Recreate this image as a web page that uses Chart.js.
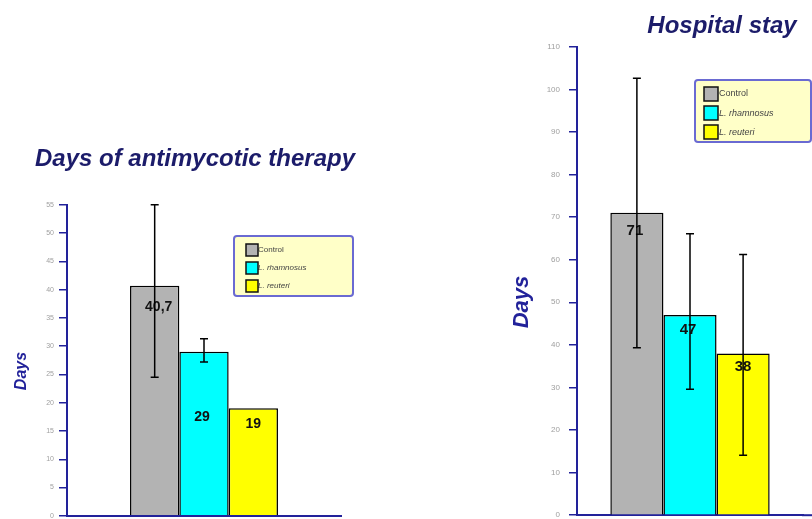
<!DOCTYPE html>
<html lang="en">
<head>
<meta charset="UTF-8">
<title>Days of antimycotic therapy / Hospital stay</title>
<style>
  html, body { margin: 0; padding: 0; background: #fff; width: 812px; height: 519px; overflow: hidden; position: relative; }
  canvas { position: absolute; top: 0; }
  #therapy-chart { left: 0; }
  #stay-chart { left: 505px; }
</style>
</head>
<body>
<canvas id="therapy-chart" width="390" height="525"></canvas>
<canvas id="stay-chart" width="434" height="529"></canvas>
<script src="https://cdn.jsdelivr.net/npm/chart.js"></script>
<script>
// data
const groups = ['Control', 'L. rhamnosus', 'L. reuteri'];
const groupColors = ['#b3b3b3', '#00ffff', '#ffff00'];

const therapyDays = [40.7, 29, 19];
const therapyLow = [24.5, 27.2, null];
const therapyHigh = [55, 31.3, null];
const therapyText = ['40,7', '29', '19'];
const therapyTicks = [0, 5, 10, 15, 20, 25, 30, 35, 40, 45, 50, 55];

const stayDays = [71, 47, 38];
const stayLow = [39.3, 29.6, 14.1];
const stayHigh = [102.6, 66.1, 61.2];
const stayText = ['71', '47', '38'];
const stayTicks = [0, 10, 20, 30, 40, 50, 60, 70, 80, 90, 100, 110];

const navy = '#22229a';
const titleColor = '#1c1c6a';
const fontFamily = '"Liberation Sans", Arial, sans-serif';

// labels inside bars, error bars, legend box, y label, axis extension
const decorations = {
  id: 'decorations',
  afterDatasetsDraw(chart, args, o) {
    const ctx = chart.ctx;
    const y = chart.scales.y;
    ctx.save();
    // value labels
    ctx.fillStyle = '#111';
    ctx.font = 'bold ' + o.valueSize + 'px ' + fontFamily;
    ctx.textAlign = 'center';
    ctx.textBaseline = 'middle';
    chart.data.datasets.forEach((ds, i) => {
      const bar = chart.getDatasetMeta(i).data[0];
      const off = o.valueOffsets[i];
      ctx.fillText(ds.valueText, bar.x + off[0], bar.y + off[1]);
    });
    // error bars
    ctx.strokeStyle = '#000';
    ctx.lineWidth = 1.5;
    chart.data.datasets.forEach((ds, i) => {
      if (ds.low == null) return;
      const x = chart.getDatasetMeta(i).data[0].x;
      const yl = y.getPixelForValue(ds.low);
      const yh = y.getPixelForValue(ds.high);
      ctx.beginPath();
      ctx.moveTo(x, yl); ctx.lineTo(x, yh);
      ctx.moveTo(x - 4, yl); ctx.lineTo(x + 4, yl);
      ctx.moveTo(x - 4, yh); ctx.lineTo(x + 4, yh);
      ctx.stroke();
    });
    ctx.restore();
  },
  afterDraw(chart, args, o) {
    const ctx = chart.ctx;
    const area = chart.chartArea;
    ctx.save();
    // x axis runs on past the plot
    if (o.axisEnd) {
      ctx.strokeStyle = navy;
      ctx.lineWidth = 2;
      ctx.beginPath();
      ctx.moveTo(area.right - 1, area.bottom);
      ctx.lineTo(o.axisEnd, area.bottom);
      ctx.stroke();
    }
    // y axis label
    const yl = o.yLabel;
    ctx.translate(yl.x, yl.y);
    ctx.rotate(-Math.PI / 2);
    ctx.fillStyle = navy;
    ctx.font = 'italic bold ' + yl.size + 'px ' + fontFamily;
    ctx.textAlign = 'center';
    ctx.textBaseline = 'middle';
    ctx.fillText('Days', 0, 0);
    ctx.setTransform(1, 0, 0, 1, 0, 0);
    // legend
    const L = o.legend;
    ctx.fillStyle = '#ffffc8';
    ctx.strokeStyle = '#6a6ad2';
    ctx.lineWidth = 2;
    ctx.beginPath();
    ctx.roundRect(L.x, L.y, L.w, L.h, 3);
    ctx.fill();
    ctx.stroke();
    ctx.textBaseline = 'middle';
    ctx.textAlign = 'left';
    chart.data.datasets.forEach((ds, i) => {
      const top = L.y + L.first + i * L.pitch;
      ctx.font = (i === 0 ? '' : 'italic ') + L.font + 'px ' + fontFamily;
      ctx.fillStyle = '#444';
      ctx.fillText(ds.label, L.x + L.textX, top + L.box / 2);
      ctx.fillStyle = ds.backgroundColor;
      ctx.fillRect(L.x + L.boxX, top, L.box, L.box);
      ctx.strokeStyle = '#111';
      ctx.lineWidth = 1.5;
      ctx.strokeRect(L.x + L.boxX, top, L.box, L.box);
    });
    ctx.restore();
  }
};

function makeChart(id, cfg) {
  const datasets = groups.map((g, i) => ({
    label: g,
    data: [cfg.values[i]],
    low: cfg.low[i],
    high: cfg.high[i],
    valueText: cfg.text[i],
    backgroundColor: groupColors[i],
    borderColor: '#000',
    borderWidth: 1.5,
    categoryPercentage: cfg.catPct,
    barPercentage: 1
  }));
  return new Chart(document.getElementById(id), {
    type: 'bar',
    data: { labels: [''], datasets },
    plugins: [decorations],
    options: {
      responsive: false,
      animation: false,
      plugins: {
        legend: { display: false },
        tooltip: { enabled: false },
        title: {
          display: true,
          text: cfg.title,
          color: titleColor,
          font: { family: fontFamily, size: 24, style: 'italic', weight: 'bold', lineHeight: 1.2 },
          padding: cfg.titlePad
        },
        decorations: cfg.deco
      },
      scales: {
        x: {
          grid: { display: false },
          ticks: { display: false },
          border: { color: navy, width: 2 },
          afterFit(s) { s.height = cfg.xHeight; }
        },
        y: {
          min: cfg.ticks[0],
          max: cfg.ticks[cfg.ticks.length - 1],
          afterBuildTicks(s) { s.ticks = cfg.ticks.map(v => ({ value: v })); },
          afterFit(s) { s.width = cfg.yWidth; },
          grid: { drawOnChartArea: false, tickLength: 8, color: navy, lineWidth: 1.5 },
          border: { color: navy, width: 2 },
          ticks: { color: '#a0a0a0', font: { family: fontFamily, size: cfg.tickSize }, padding: cfg.tickPad }
        },
        // empty space right of the plot, keeps the title centred on the canvas
        gap: {
          type: 'linear',
          position: 'right',
          grid: { display: false },
          ticks: { display: false },
          border: { display: false },
          afterFit(s) { s.width = cfg.gapRight; }
        }
      }
    }
  });
}

makeChart('therapy-chart', {
  title: 'Days of antimycotic therapy',
  values: therapyDays, low: therapyLow, high: therapyHigh, text: therapyText, ticks: therapyTicks,
  catPct: 0.54, gapRight: 49, yWidth: 67, xHeight: 3, tickSize: 7, tickPad: 5,
  titlePad: { top: 145, bottom: 31 },
  deco: {
    valueSize: 14,
    valueOffsets: [[4, 21], [-2, 65], [0, 16]],
    yLabel: { x: 22, y: 371, size: 16 },
    legend: { x: 234, y: 236, w: 119, h: 60, first: 8, pitch: 18, box: 12, boxX: 12, textX: 24, font: 8 }
  }
});

makeChart('stay-chart', {
  title: 'Hospital stay',
  values: stayDays, low: stayLow, high: stayHigh, text: stayText, ticks: stayTicks,
  catPct: 0.705, gapRight: 136, yWidth: 72, xHeight: 4, tickSize: 8, tickPad: 9,
  titlePad: { top: 12, bottom: 6 },
  deco: {
    valueSize: 15,
    valueOffsets: [[-2, 18], [-2, 15], [0, 13]],
    axisEnd: 307,
    yLabel: { x: 17, y: 302, size: 22 },
    legend: { x: 190, y: 80, w: 116, h: 62, first: 7, pitch: 19, box: 14, boxX: 9, textX: 24, font: 9 }
  }
});
</script>
</body>
</html>
